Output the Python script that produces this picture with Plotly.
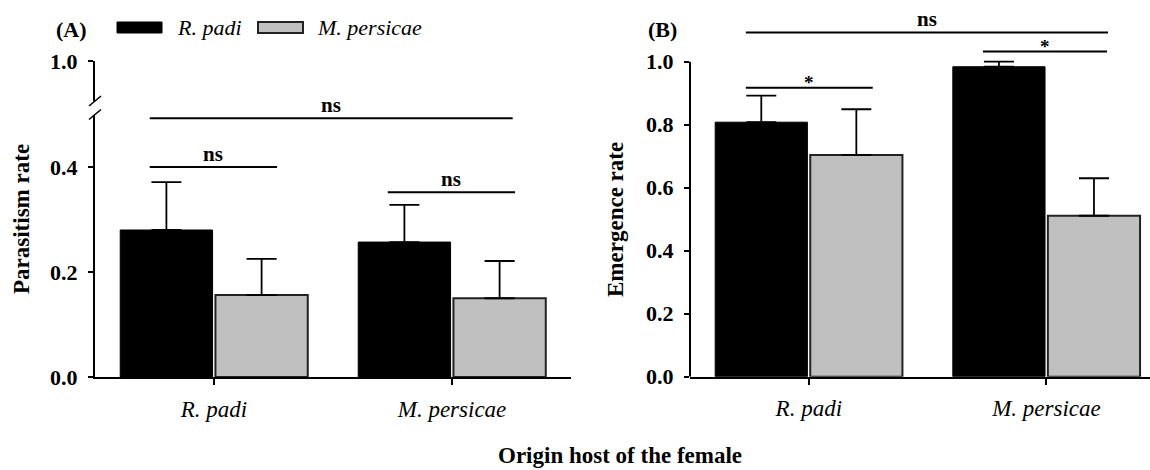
import plotly.graph_objects as go

# ---------------- data ----------------
hosts = ["R. padi", "M. persicae"]          # origin host of the female (categories)
series_names = ["R. padi", "M. persicae"]   # host offered (series)

# Panel A: parasitism rate (mean, upper SE)
para_rpadi = [0.280, 0.257]
para_rpadi_err = [0.091, 0.071]
para_mpers = [0.156, 0.150]
para_mpers_err = [0.069, 0.071]

# Panel B: emergence rate (mean, upper SE)
emer_rpadi = [0.808, 0.984]
emer_rpadi_err = [0.084, 0.016]
emer_mpers = [0.704, 0.511]
emer_mpers_err = [0.145, 0.119]

# significance brackets (x start, x end in category units, y level, label)
sigA_x0 = [-0.27, 0.73, -0.27]
sigA_x1 = [0.265, 1.265, 1.255]
sigA_y = [0.400, 0.352, 0.493]
sigA_lab = ["ns", "ns", "ns"]

sigB_x0 = [-0.265, 0.733, -0.265]
sigB_x1 = [0.269, 1.255, 1.259]
sigB_y = [0.917, 1.032, 1.093]
sigB_lab = ["*", "*", "ns"]

yA_ticks = [0.0, 0.2, 0.4]
yA_top_ticks = [1.0]
yB_ticks = [0.0, 0.2, 0.4, 0.6, 0.8, 1.0]

# ---------------- layout helpers ----------------
W, H = 1150, 470
def px(x):
    return x / W
def py(y):
    return 1 - y / H

FONT = "Liberation Serif"
BLACK = "#000000"
GRAY = "#c0c0c0"
EDGE = "#222222"

fig = go.Figure()

def add_pair(xa, ya, v1, e1, v2, e2):
    fig.add_trace(go.Bar(
        x=hosts, y=v1, name=series_names[0], xaxis=xa, yaxis=ya,
        marker=dict(color=BLACK, line=dict(color=BLACK, width=1)),
        error_y=dict(type="data", symmetric=False, array=e1, arrayminus=[0] * len(e1),
                     color=BLACK, thickness=1.8, width=15),
        showlegend=False, hoverinfo="skip"))
    fig.add_trace(go.Bar(
        x=hosts, y=v2, name=series_names[1], xaxis=xa, yaxis=ya,
        marker=dict(color=GRAY, line=dict(color=EDGE, width=2)),
        error_y=dict(type="data", symmetric=False, array=e2, arrayminus=[0] * len(e2),
                     color=BLACK, thickness=1.8, width=15),
        showlegend=False, hoverinfo="skip"))

add_pair("x", "y", para_rpadi, para_rpadi_err, para_mpers, para_mpers_err)
add_pair("x2", "y2", emer_rpadi, emer_rpadi_err, emer_mpers, emer_mpers_err)
# empty trace so the upper (broken) segment of panel A's axis exists
fig.add_trace(go.Scatter(x=[None], y=[None], xaxis="x", yaxis="y3",
                         showlegend=False, hoverinfo="skip"))

TICK = 22
LAB = 23
tickfont_b = dict(family=FONT, size=TICK, color=BLACK, weight="bold")
tickfont_i = dict(family=FONT, size=LAB, color=BLACK, style="italic")

axis_common = dict(showgrid=False, zeroline=False, ticks="outside", automargin=False,
                   tickcolor=BLACK, tickwidth=1.5, linecolor=BLACK, linewidth=2)

# Panel geometry (pixels -> paper)
A_x = [px(95), px(571)]
A_ylow = [py(377), py(114.5)]
A_yup = [py(101), py(61)]
B_x = [px(690), 1.0]
B_range_top = 1.17
B_y = [py(376.7), py(376.7 - B_range_top * 315)]
B_xmax = (1150 - 809) / 237.5

fig.update_layout(
    template="none",
    width=W, height=H, autosize=False,
    margin=dict(l=0, r=0, t=0, b=0, pad=0),
    paper_bgcolor="white", plot_bgcolor="white",
    showlegend=False,
    barmode="group", bargap=0.2, bargroupgap=0.03,
    font=dict(family=FONT, color=BLACK, size=TICK),
    xaxis=dict(domain=A_x, anchor="y", range=[-0.5, 1.5], showline=True,
               ticklen=6, tickfont=tickfont_i, ticklabelstandoff=4, **axis_common),
    yaxis=dict(domain=A_ylow, anchor="x", range=[0, 0.5], tickvals=yA_ticks,
               tickformat=".1f", showline=True, ticklen=5, tickfont=tickfont_b,
               ticklabelstandoff=6, **axis_common),
    yaxis3=dict(domain=A_yup, anchor="x", range=[0.93, 1.0], tickvals=yA_top_ticks,
                tickformat=".1f", showline=True, ticklen=5, tickfont=tickfont_b,
                ticklabelstandoff=6, **axis_common),
    xaxis2=dict(domain=B_x, anchor="y2", range=[-0.5, B_xmax], showline=True,
                ticklen=6, tickfont=tickfont_i, ticklabelstandoff=4, **axis_common),
    yaxis2=dict(domain=B_y, anchor="x2", range=[0, B_range_top], tickvals=yB_ticks,
                tickformat=".1f", showline=False, ticklen=5, tickfont=tickfont_b,
                ticklabelstandoff=6, **axis_common),
)

shapes = []
annotations = []

# panel B y-axis line only up to 1.0
shapes.append(dict(type="line", xref="x2 domain", x0=0, x1=0, yref="y2",
                   y0=0, y1=max(yB_ticks), line=dict(color=BLACK, width=2)))

# axis-break slashes on panel A
for cy in (101, 114.5):
    shapes.append(dict(type="line", xref="paper", yref="paper",
                       x0=px(89), y0=py(cy + 5), x1=px(101), y1=py(cy - 5),
                       line=dict(color=BLACK, width=1.6)))

# significance brackets
def add_sig(xref, yref, x0s, x1s, ys, labs):
    for x0, x1, y, lab in zip(x0s, x1s, ys, labs):
        shapes.append(dict(type="line", xref=xref, yref=yref, x0=x0, x1=x1, y0=y, y1=y,
                           line=dict(color=BLACK, width=2)))
        star = lab == "*"
        annotations.append(dict(xref=xref, yref=yref, x=(x0 + x1) / 2, y=y,
                                text=lab, showarrow=False, xanchor="center",
                                yanchor="bottom", yshift=-7 if star else -1,
                                font=dict(family=FONT, size=19 if star else 21,
                                          color=BLACK, weight="bold")))

add_sig("x", "y", sigA_x0, sigA_x1, sigA_y, sigA_lab)
add_sig("x2", "y2", sigB_x0, sigB_x1, sigB_y, sigB_lab)

# legend (drawn manually to match the wide swatches)
shapes.append(dict(type="rect", xref="paper", yref="paper", x0=px(117), x1=px(162),
                   y0=py(33), y1=py(22), fillcolor=BLACK, line=dict(color=BLACK, width=1)))
shapes.append(dict(type="rect", xref="paper", yref="paper", x0=px(258), x1=px(303),
                   y0=py(33), y1=py(22), fillcolor=GRAY, line=dict(color=EDGE, width=2)))
annotations.append(dict(xref="paper", yref="paper", x=px(175), y=py(28), text=series_names[0],
                        showarrow=False, xanchor="left", yanchor="middle",
                        font=dict(family=FONT, size=22, color=BLACK, style="italic")))
annotations.append(dict(xref="paper", yref="paper", x=px(315), y=py(28), text=series_names[1],
                        showarrow=False, xanchor="left", yanchor="middle",
                        font=dict(family=FONT, size=22, color=BLACK, style="italic")))

# panel labels
for txt, x in (("(A)", 54), ("(B)", 646)):
    annotations.append(dict(xref="paper", yref="paper", x=px(x), y=py(30), text=txt,
                            showarrow=False, xanchor="left", yanchor="middle",
                            font=dict(family=FONT, size=22, color=BLACK, weight="bold")))

# axis titles
annotations.append(dict(xref="paper", yref="paper", x=px(22), y=py(219),
                        text="Parasitism rate", textangle=-90, showarrow=False,
                        xanchor="center", yanchor="middle",
                        font=dict(family=FONT, size=LAB, color=BLACK, weight="bold")))
annotations.append(dict(xref="paper", yref="paper", x=px(616), y=py(219),
                        text="Emergence rate", textangle=-90, showarrow=False,
                        xanchor="center", yanchor="middle",
                        font=dict(family=FONT, size=LAB, color=BLACK, weight="bold")))
annotations.append(dict(xref="paper", yref="paper", x=px(620), y=py(455),
                        text="Origin host of the female", showarrow=False,
                        xanchor="center", yanchor="middle",
                        font=dict(family=FONT, size=LAB, color=BLACK, weight="bold")))

fig.update_layout(shapes=shapes, annotations=annotations)

fig.write_html("out.html", config={"displayModeBar": False},
               post_script="document.body.style.margin='0px';")
